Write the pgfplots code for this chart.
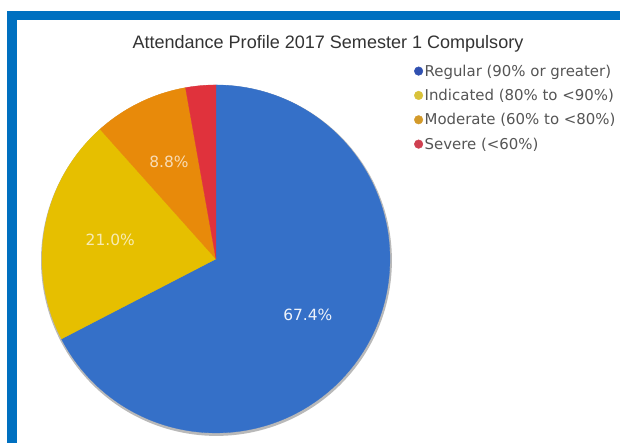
\documentclass[border=0pt]{standalone}
\usepackage{pgfplots}
\pgfplotsset{compat=1.18}
\usepackage{pgfplotstable}
\usepackage{fontspec}
\setmainfont{Liberation Sans}
\newfontfamily\dejavu{DejaVu Sans}
\definecolor{frameblue}{HTML}{0070C0}
\definecolor{pieblue}{HTML}{3570C8}
\definecolor{pieyellow}{HTML}{E6BF00}
\definecolor{pieorange}{HTML}{E88A0A}
\definecolor{piered}{HTML}{E0323C}
\definecolor{legblue}{HTML}{3050B0}
\definecolor{legyellow}{HTML}{D9C23A}
\definecolor{legorange}{HTML}{D39A2A}
\definecolor{legred}{HTML}{CF4050}
\definecolor{titlegray}{HTML}{333333}
\definecolor{leggray}{HTML}{555555}

\pgfplotstableread{
category value
Regular 67.4
Indicated 21.0
Moderate 8.8
Severe 2.8
}\attendance

\begin{document}
\begin{tikzpicture}[x=1bp,y=1bp]
\fill[white] (0,0) rectangle (620,443);
\fill[frameblue] (7,432) rectangle (620,423);
\fill[frameblue] (7,0) rectangle (17,432);
\pgfplotstablegetelem{0}{value}\of\attendance \let\vA\pgfplotsretval
\pgfplotstablegetelem{1}{value}\of\attendance \let\vB\pgfplotsretval
\pgfplotstablegetelem{2}{value}\of\attendance \let\vC\pgfplotsretval
\pgfplotstablegetelem{3}{value}\of\attendance \let\vD\pgfplotsretval
\pgfmathsetmacro\aA{90-3.6*\vA}
\pgfmathsetmacro\aB{\aA-3.6*\vB}
\pgfmathsetmacro\aC{\aB-3.6*\vC}
\pgfmathsetmacro\aD{\aC-3.6*\vD}
\pgfmathsetmacro\mA{(90+\aA)/2}
\pgfmathsetmacro\mB{(\aA+\aB)/2}
\pgfmathsetmacro\mC{(\aB+\aC)/2}
\pgfmathsetmacro\lAx{107.5*cos(\mA)}\pgfmathsetmacro\lAy{107.5*sin(\mA)}
\pgfmathsetmacro\lBx{107.5*cos(\mB)}\pgfmathsetmacro\lBy{107.5*sin(\mB)}
\pgfmathsetmacro\lCx{107.5*cos(\mC)}\pgfmathsetmacro\lCy{107.5*sin(\mC)}
\begin{axis}[at={(0,0)}, anchor=south west, scale only axis,
  width=620bp, height=443bp,
  xmin=-216, xmax=404, ymin=-184, ymax=259,
  hide axis, clip=false,
  legend style={at={(axis cs:195,200)}, anchor=north west, draw=none, fill=none,
    font=\dejavu\fontsize{15}{17}\selectfont, text=leggray, row sep=4.5bp,
    nodes={inner xsep=1.5bp, inner ysep=3.5bp}},
  legend cell align=left]
\addplot[forget plot, fill=gray!55, draw=none, domain=0:360, samples=200, variable=\t]
  ({0.5+175.5*cos(\t)},{-1.5+175.5*sin(\t)}) -- cycle;
\addplot[forget plot, fill=pieblue, draw=pieblue, line width=0.3bp, domain=\aA:90, samples=150, variable=\t]
  ({174*cos(\t)},{174*sin(\t)}) -- (axis cs:0,0) -- cycle;
\addplot[forget plot, fill=pieyellow, draw=pieyellow, line width=0.3bp, domain=\aB:\aA, samples=60, variable=\t]
  ({174*cos(\t)},{174*sin(\t)}) -- (axis cs:0,0) -- cycle;
\addplot[forget plot, fill=pieorange, draw=pieorange, line width=0.3bp, domain=\aC:\aB, samples=40, variable=\t]
  ({174*cos(\t)},{174*sin(\t)}) -- (axis cs:0,0) -- cycle;
\addplot[forget plot, fill=piered, draw=piered, line width=0.3bp, domain=\aD:\aC, samples=20, variable=\t]
  ({174*cos(\t)},{174*sin(\t)}) -- (axis cs:0,0) -- cycle;
\node[font=\dejavu\fontsize{15.5}{18}\selectfont, text=white, opacity=0.92] at (axis cs:\lAx,\lAy) {\pgfmathprintnumber[fixed,fixed zerofill,precision=1,assume math mode=true]{\vA}\%};
\node[font=\dejavu\fontsize{15.5}{18}\selectfont, text=white, opacity=0.7] at (axis cs:\lBx,\lBy) {\pgfmathprintnumber[fixed,fixed zerofill,precision=1,assume math mode=true]{\vB}\%};
\node[font=\dejavu\fontsize{15.5}{18}\selectfont, text=white, opacity=0.7] at (axis cs:\lCx,\lCy) {\pgfmathprintnumber[fixed,fixed zerofill,precision=1,assume math mode=true]{\vC}\%};
\node[font=\fontsize{18.1}{21}\selectfont, text=titlegray, anchor=base] at (axis cs:112,210.5) {Attendance Profile 2017 Semester 1 Compulsory};
\addlegendimage{legend image code/.code={\fill[legblue] (0,0) circle (4.3bp);}}
\addlegendentry{Regular (90\% or greater)}
\addlegendimage{legend image code/.code={\fill[legyellow] (0,0) circle (4.3bp);}}
\addlegendentry{Indicated (80\% to <90\%)}
\addlegendimage{legend image code/.code={\fill[legorange] (0,0) circle (4.3bp);}}
\addlegendentry{Moderate (60\% to <80\%)}
\addlegendimage{legend image code/.code={\fill[legred] (0,0) circle (4.3bp);}}
\addlegendentry{Severe (<60\%)}
\end{axis}
\end{tikzpicture}
\end{document}
